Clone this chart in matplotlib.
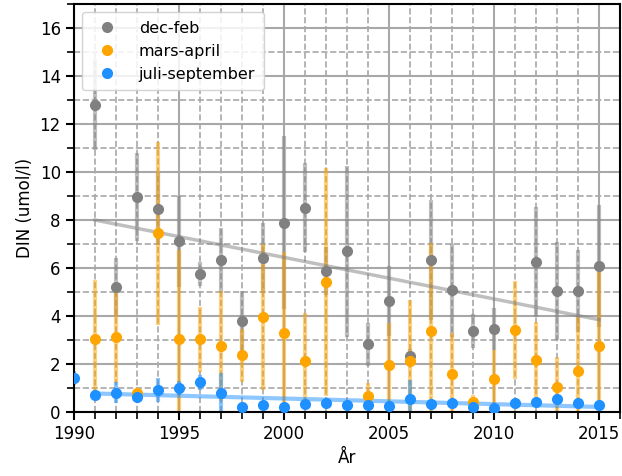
import numpy as np
import matplotlib
matplotlib.use("Agg")
import matplotlib.pyplot as plt
from matplotlib.ticker import MultipleLocator

years = np.arange(1990, 2016)
nan = np.nan

# dec-feb
winter = [nan, 12.8, 5.22, 8.96, 8.44, 7.12, 5.77, 6.33, 3.8, 6.42, 7.88, 8.52, 5.86,
          6.7, 2.83, 4.62, 2.33, 6.33, 5.07, 3.38, 3.45, nan, 6.26, 5.05, 5.05, 6.08]
winter_err = [nan, 1.9, 1.2, 1.85, 1.5, 1.9, 0.5, 1.35, 1.25, 1.45, 3.6, 1.85, 1.0,
              3.55, 0.9, 1.45, 0.3, 2.5, 1.95, 0.7, 0.87, nan, 2.3, 2.05, 1.7, 2.55]
# mars-april
spring = [nan, 3.04, 3.13, 0.8, 7.44, 3.04, 3.04, 2.76, 2.37, 3.96, 3.28, 2.14, 5.43,
          nan, 0.67, 1.96, 2.13, 3.38, 1.58, 0.43, 1.37, 3.42, 2.17, 1.05, 1.7, 2.75]
spring_err = [nan, 2.45, 1.9, 0.1, 3.8, 3.7, 1.35, 2.3, 1.1, 3.05, 3.4, 2.0, 4.75,
              nan, 0.55, 1.75, 2.55, 3.65, 1.7, 0.3, 1.2, 2.05, 1.6, 1.25, 2.27, 3.17]
# juli-september
summer = [1.43, 0.71, 0.82, 0.64, 0.92, 1.0, 1.24, 0.8, 0.2, 0.3, 0.22, 0.36, 0.37,
          0.28, 0.28, 0.26, 0.53, 0.33, 0.37, 0.2, 0.18, 0.37, 0.43, 0.53, 0.4, 0.32]
summer_err = [0.3, 0.2, 0.45, 0.15, 0.5, 0.3, 0.3, 0.85, 0.1, 0.15, 0.1, 0.15, 0.15,
              0.1, 0.1, 0.1, 0.8, 0.1, 0.15, 0.1, 0.1, 0.15, 0.15, 0.15, 0.15, 0.1]

trend_years = [1991, 2015]
winter_trend = [8.0, 3.85]
summer_trend = [0.78, 0.22]

series = [
    ("dec-feb", winter, winter_err, "grey"),
    ("mars-april", spring, spring_err, "orange"),
    ("juli-september", summer, summer_err, "dodgerblue"),
]

plt.rcParams["font.size"] = 12
fig = plt.figure(figsize=(6.22, 4.76), dpi=100)
ax = fig.add_axes([0.119, 0.134, 0.878, 0.858])

for label, vals, err, col in series:
    ax.errorbar(years, vals, yerr=err, fmt="none", ecolor=col, elinewidth=3,
                alpha=0.5, zorder=2)
for label, vals, err, col in series:
    ax.plot(years, vals, "o", color=col, markersize=7, label=label, zorder=4)

ax.plot(trend_years, winter_trend, color="grey", lw=2.5, alpha=0.5, zorder=3)
ax.plot(trend_years, summer_trend, color="dodgerblue", lw=3, alpha=0.5, zorder=3)

ax.set_xlim(1990, 2016)
ax.set_ylim(0, 17)
ax.xaxis.set_major_locator(MultipleLocator(5))
ax.xaxis.set_minor_locator(MultipleLocator(1))
ax.yaxis.set_major_locator(MultipleLocator(2))
ax.yaxis.set_minor_locator(MultipleLocator(1))
ax.grid(which="major", color="#a8a8a8", linestyle="-", linewidth=1.5)
ax.grid(which="minor", color="#a8a8a8", linestyle="--", linewidth=1.2)
ax.set_axisbelow(True)
ax.tick_params(which="major", length=6, width=1.5)
ax.tick_params(which="minor", length=5, width=1.2)
for s in ax.spines.values():
    s.set_linewidth(1.5)

ax.set_xlabel("År")
ax.set_ylabel("DIN (umol/l)")
ax.legend(loc="upper left", fontsize=11.5, framealpha=0.85,
          handletextpad=1.0, borderpad=0.55)

fig.savefig("out.png")
